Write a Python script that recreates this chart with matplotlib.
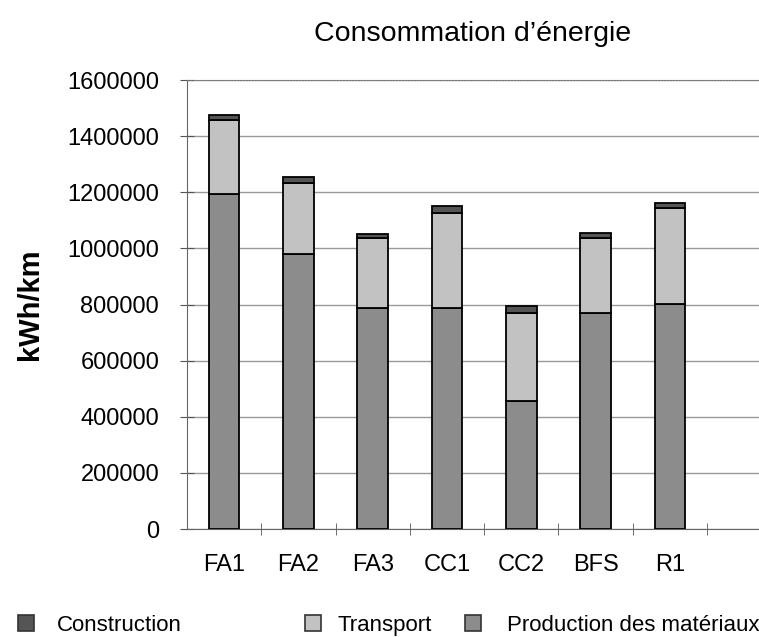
import numpy as np
import matplotlib.pyplot as plt
from matplotlib.patches import Patch

plt.rcParams['font.family'] = ['Liberation Sans', 'DejaVu Sans']

categories = ['FA1', 'FA2', 'FA3', 'CC1', 'CC2', 'BFS', 'R1']
production = [1195000, 980000, 788000, 788000, 456000, 770000, 802000]
transport = [262000, 252000, 249000, 338000, 314000, 267000, 342000]
construction = [20000, 22000, 14000, 25000, 25000, 18000, 18000]
yticks = [0, 200000, 400000, 600000, 800000, 1000000, 1200000, 1400000, 1600000]

c_prod = '#8c8c8c'
c_trans = '#c2c2c2'
c_cons = '#555555'

fig = plt.figure(figsize=(7.59, 6.37), dpi=100)
ax = fig.add_axes([0.2464, 0.1695, 0.7536, 0.7049])

x = np.arange(len(categories))
prod = np.array(production)
trans = np.array(transport)
cons = np.array(construction)
w = 0.41
ax.bar(x, prod, w, color=c_prod, edgecolor='black', linewidth=1.3, zorder=3)
ax.bar(x, trans, w, bottom=prod, color=c_trans, edgecolor='black', linewidth=1.3, zorder=3)
ax.bar(x, cons, w, bottom=prod + trans, color=c_cons, edgecolor='black', linewidth=1.3, zorder=3)

ax.set_xlim(-0.5, 7.2)
ax.set_ylim(0, 1600000)
ax.set_yticks(yticks)
ax.set_yticklabels([str(v) for v in yticks], fontsize=17)
ax.set_xticks(x)
ax.set_xticklabels(categories, fontsize=17)
ax.tick_params(axis='x', length=0, pad=18)
ax.set_xticks(np.arange(len(categories)) + 0.5, minor=True)
ax.tick_params(axis='x', which='minor', direction='inout', length=8, color='#555555')
ax.tick_params(axis='y', direction='inout', length=10, color='#555555', pad=15)

ax.grid(axis='y', color='#9a9a9a', linewidth=1.0, zorder=0)
ax.spines['right'].set_visible(False)
ax.spines['top'].set_linestyle(':')
ax.spines['top'].set_color('#777777')
ax.spines['left'].set_color('#666666')
ax.spines['bottom'].set_color('#666666')

ax.set_ylabel('kWh/km', fontsize=21, fontweight='bold', va='center')
ax.yaxis.set_label_coords(-0.275, 0.5)
fig.text(0.623, 0.947, 'Consommation d\u2019énergie', fontsize=20.5, ha='center', va='center')

legend_items = [
    ('Construction', c_cons, 0.0237, 1.05),
    ('Transport', c_trans, 0.4018, 0.75),
    ('Production des matériaux', c_prod, 0.6126, 1.2),
]
for label, col, xpos, tpad in legend_items:
    h = Patch(facecolor=col, edgecolor='#333333', linewidth=1.2)
    fig.legend([h], [label], loc='center left', bbox_to_anchor=(xpos, 0.018), frameon=False,
               fontsize=16, handlelength=0.7, handleheight=0.7, handletextpad=tpad,
               borderpad=0, borderaxespad=0)

fig.savefig('out.png', dpi=100)
